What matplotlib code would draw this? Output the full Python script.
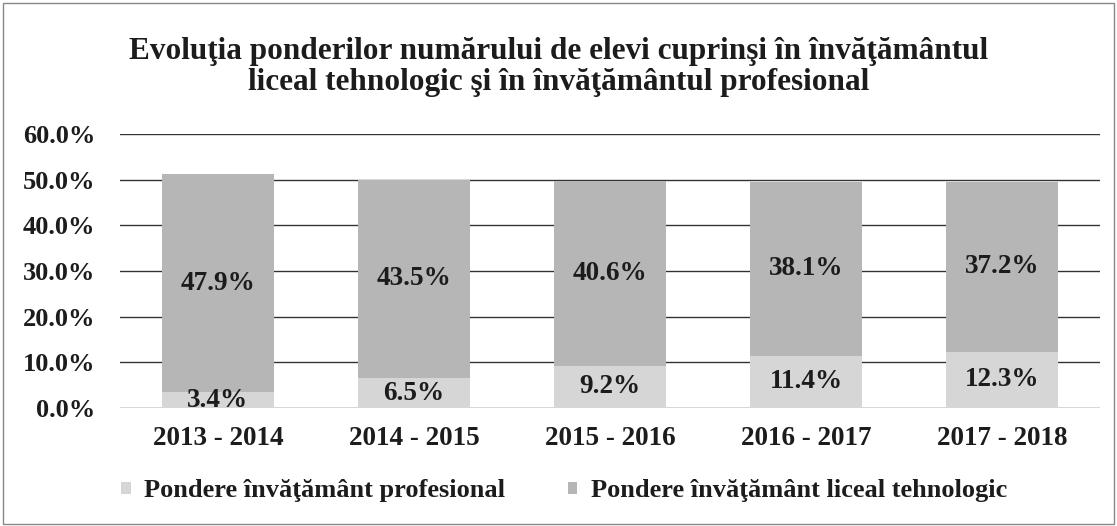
import matplotlib
matplotlib.use("Agg")
import matplotlib.pyplot as plt
import numpy as np

plt.rcParams['font.family'] = ['Liberation Serif', 'DejaVu Serif']
plt.rcParams['font.weight'] = 'bold'

years = ["2013 - 2014", "2014 - 2015", "2015 - 2016", "2016 - 2017", "2017 - 2018"]
profesional = [3.4, 6.5, 9.2, 11.4, 12.3]
liceal_tehnologic = [47.9, 43.5, 40.6, 38.1, 37.2]
y_ticks = [0, 10, 20, 30, 40, 50, 60]

col_prof = "#d6d6d6"
col_lic = "#b6b6b6"
txt = "#1c1c1c"

fig = plt.figure(figsize=(11.17, 5.26), dpi=100)
ax = fig.add_axes([120 / 1117, 1 - 408 / 526, 980 / 1117, 274 / 526])

x = np.arange(len(years))
b1 = ax.bar(x, profesional, width=0.57, color=col_prof, label="Pondere învăţământ profesional", zorder=2)
b2 = ax.bar(x, liceal_tehnologic, width=0.57, bottom=profesional, color=col_lic,
            label="Pondere învăţământ liceal tehnologic", zorder=2)

for i in range(len(years)):
    ax.text(x[i], profesional[i] / 2, f"{profesional[i]:.1f}%", ha="center", va="center",
            fontsize=19.5, fontweight="bold", color=txt, zorder=3)
    ax.text(x[i], profesional[i] + liceal_tehnologic[i] / 2, f"{liceal_tehnologic[i]:.1f}%",
            ha="center", va="center", fontsize=19.5, fontweight="bold", color=txt, zorder=3)

ax.set_xlim(-0.5, len(years) - 0.5)
ax.set_ylim(0, 60)
ax.set_yticks(y_ticks)
ax.set_yticklabels([f"{v:.1f}%" for v in y_ticks], fontsize=19, fontweight="bold", color=txt)
ax.set_xticks(x)
ax.set_xticklabels(years, fontsize=19.5, fontweight="bold", color=txt)
ax.tick_params(axis="x", length=0, pad=13)
ax.tick_params(axis="y", length=0, pad=18)
ax.yaxis.grid(True, color="#333333", linewidth=1.0, zorder=0)
for s in ax.spines.values():
    s.set_visible(False)

fig.text(0.5, 1 - 67 / 526, "Evoluţia ponderilor numărului de elevi cuprinşi în învăţământul\nliceal tehnologic şi în învăţământul profesional",
         ha="center", va="center", fontsize=22.5, fontweight="bold", linespacing=1.05, color=txt)

leg = fig.legend(handles=[b1, b2], loc="center", bbox_to_anchor=(0.505, 1 - 491 / 526), ncol=2,
                 frameon=False, fontsize=19, handlelength=0.35, handleheight=0.35, handletextpad=0.5,
                 columnspacing=2.4, labelcolor=txt)

border = plt.Rectangle((0.003, 0.003), 0.994, 0.992, transform=fig.transFigure, fill=False,
                       edgecolor="#888888", linewidth=1.0)
fig.patches.append(border)

fig.savefig("out.png", dpi=100)
